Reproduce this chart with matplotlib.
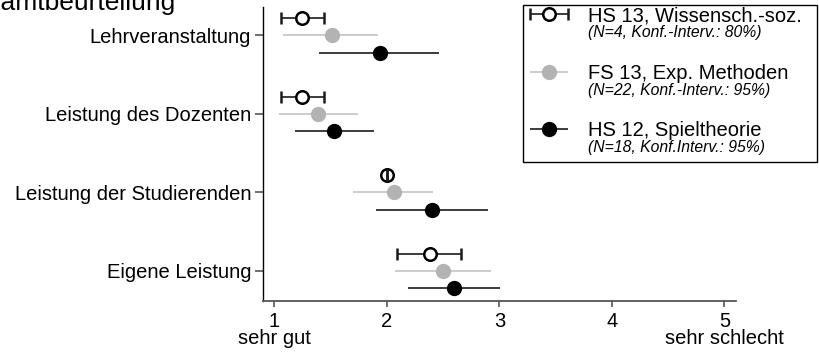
import matplotlib
matplotlib.use("Agg")
import matplotlib.pyplot as plt
import numpy as np
from matplotlib.patches import Rectangle
from matplotlib.legend_handler import HandlerErrorbar
from matplotlib.container import ErrorbarContainer

plt.rcParams['font.family'] = ['Liberation Sans', 'DejaVu Sans']

categories = ['Lehrveranstaltung', 'Leistung des Dozenten',
              'Leistung der Studierenden', 'Eigene Leistung']

# mean and confidence interval bounds per course
hs13_mean = [1.25, 1.25, 2.00, 2.38]
hs13_lo = [1.06, 1.06, 2.00, 2.09]
hs13_hi = [1.44, 1.44, 2.00, 2.66]

fs13_mean = [1.51, 1.39, 2.06, 2.50]
fs13_lo = [1.08, 1.04, 1.70, 2.07]
fs13_hi = [1.92, 1.74, 2.41, 2.93]

hs12_mean = [1.94, 1.53, 2.40, 2.60]
hs12_lo = [1.40, 1.18, 1.90, 2.19]
hs12_hi = [2.46, 1.89, 2.90, 3.01]

labels = ['HS 13, Wissensch.-soz.', 'FS 13, Exp. Methoden', 'HS 12, Spieltheorie']
sublabels = ['(N=4, Konf.-Interv.: 80%)', '(N=22, Konf.-Interv.: 95%)',
             '(N=18, Konf.Interv.: 95%)']

xticks = [1, 2, 3, 4, 5]
xticklabels = ['1\nsehr gut', '2', '3', '4', '5\nsehr schlecht']

W, H = 819, 353
fig = plt.figure(figsize=(W / 100, H / 100), dpi=100)
ax = fig.add_axes([263 / W, 1 - 300.7 / H, (735.7 - 263) / W, (300.7 - 7) / H])

y = np.arange(len(categories))
fs = 14.5

series = [
    (hs13_mean, hs13_lo, hs13_hi, -0.22,
     dict(marker='o', ms=9, mfc='white', mec='black', mew=1.8, color='#1a1a1a')),
    (fs13_mean, fs13_lo, fs13_hi, 0.0,
     dict(marker='o', ms=11, mfc='#b3b3b3', mec='#b3b3b3', mew=0, color='#c4c4c4')),
    (hs12_mean, hs12_lo, hs12_hi, 0.22,
     dict(marker='o', ms=11, mfc='black', mec='black', mew=0, color='#1a1a1a')),
]

handles = []
for mean, lo, hi, off, st in series:
    mean = np.array(mean)
    err = [mean - np.array(lo), np.array(hi) - mean]
    eb = ax.errorbar(mean, y + off, xerr=err, ls='none', capsize=4.5,
                     elinewidth=1.2, capthick=1.2, **st)
    for c in eb[1]:
        c.set_zorder(3)
    handles.append(eb)

ax.set_xlim(0.9, 5.1)
ax.set_ylim(3.38, -0.36)
ax.set_yticks(y)
ax.set_yticklabels(categories, fontsize=fs)
ax.set_xticks(xticks)
ax.set_xticklabels(xticklabels, fontsize=fs, linespacing=0.9)

for s in ['top', 'right']:
    ax.spines[s].set_visible(False)
ax.spines['left'].set_color('black')
ax.spines['bottom'].set_color('#555555')
ax.spines['left'].set_linewidth(1.0)
ax.spines['bottom'].set_linewidth(1.3)
ax.tick_params(axis='y', length=5.5, width=1.2, color='#555555', pad=3)
ax.tick_params(axis='x', length=4.5, width=1.2, color='#555555', pad=3.5)

# title sits partly outside the canvas, as in the original export
fig.text(176 / W, 1 - 10 / H, 'Gesamtbeurteilung', fontsize=19,
         ha='right', va='baseline')

leg = ax.legend(handles, labels, loc='upper left', frameon=False,
                bbox_to_anchor=(529 / W, 1 - 6 / H), bbox_transform=fig.transFigure,
                fontsize=fs, borderpad=0, borderaxespad=0, handlelength=2.0,
                handletextpad=0.93, labelspacing=1.92,
                handler_map={ErrorbarContainer: HandlerErrorbar(xerr_size=0.93)})

# italic sub lines below each legend label
fig.canvas.draw()
for txt, sub in zip(leg.get_texts(), sublabels):
    bb = txt.get_window_extent()
    cy = (bb.y0 + bb.y1) / 2 - 17
    fig.text(bb.x0 / W, cy / H, sub, fontsize=11.3, style='italic',
             ha='left', va='center')

fig.add_artist(Rectangle((522.7 / W, 1 - 161.7 / H), 294 / W, 157 / H,
                         fill=False, ec='black', lw=1.0,
                         transform=fig.transFigure))

fig.savefig('out.png', dpi=100)
